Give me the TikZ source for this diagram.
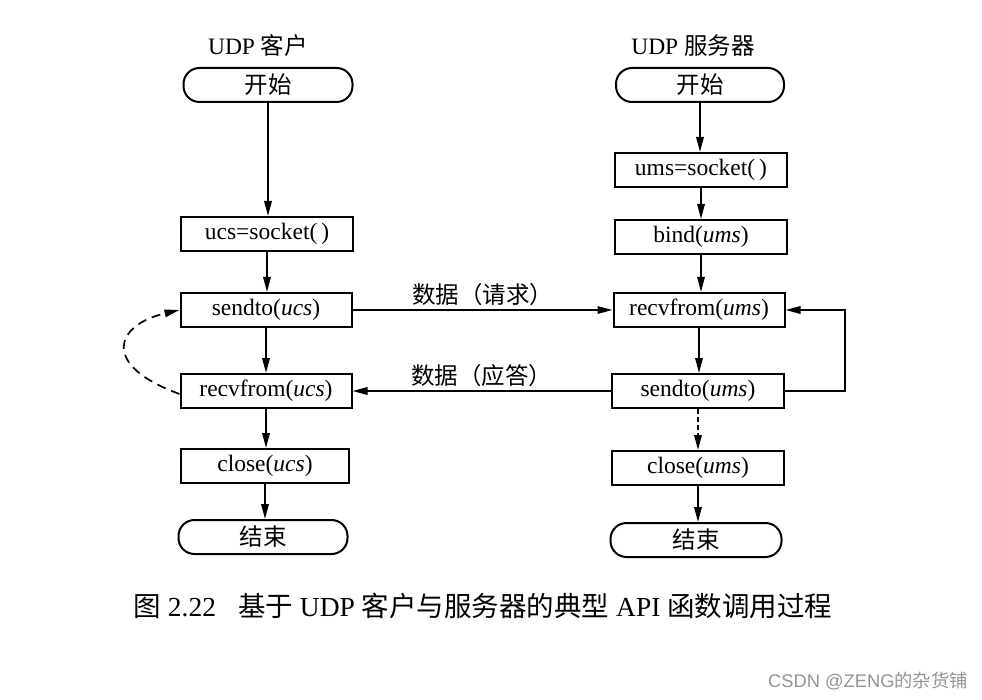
\documentclass[tikz,border=0pt]{standalone}
\usepackage{fontspec}
\setmainfont{Liberation Serif}
\newfontfamily\cjk{Noto Sans CJK SC}
\newfontfamily\wsans{Liberation Sans}
\usetikzlibrary{arrows.meta}
\newcommand\zh[1]{{\cjk #1}}
\begin{document}
\begin{tikzpicture}[x=1pt,y=-1pt,
  box/.style={draw,line width=2pt,minimum height=34pt,inner sep=0pt,font=\fontsize{23.5}{26}\selectfont},
  term/.style={box,rounded corners=16pt,font=\fontsize{23.5}{26}\selectfont\cjk},
  arr/.style={line width=1.7pt,-{Triangle[length=15pt,width=7.5pt]}},
  lbl/.style={font=\fontsize{23.5}{26}\selectfont\cjk},
  ttl/.style={font=\fontsize{23.5}{27}\selectfont}
]
\useasboundingbox (0,0) rectangle (982,700);
% client
\node[ttl] (ct) at (258,46) {UDP \zh{客户}};
\node[term,minimum width=169pt] (cb) at (268,85) {开始};
\node[box,minimum width=172pt] (cs) at (267,234) {ucs=socket(\,)};
\node[box,minimum width=171pt] (sc) at (266,310) {sendto(\textit{ucs})};
\node[box,minimum width=171pt] (rc) at (266,391) {recvfrom(\textit{ucs})};
\node[box,minimum width=168pt] (cc) at (265,466) {close(\textit{ucs})};
\node[term,minimum width=169pt] (ce) at (263,537) {结束};
% server
\node[ttl] (st) at (693,46) {UDP \zh{服务器}};
\node[term,minimum width=168pt] (sb) at (700,85) {开始};
\node[box,minimum width=172pt] (ss0) at (701,170) {ums=socket(\,)};
\node[box,minimum width=172pt] (bd) at (701,237) {bind(\textit{ums})};
\node[box,minimum width=171pt] (rs) at (699,310) {recvfrom(\textit{ums})};
\node[box,minimum width=172pt] (ss) at (698,391) {sendto(\textit{ums})};
\node[box,minimum width=172pt] (cs2) at (698,468) {close(\textit{ums})};
\node[term,minimum width=171pt] (se) at (696,540) {结束};
% client arrows
\draw[arr] (cb.south) -- (cb.south |- cs.north);
\draw[arr] (cs.south) -- (cs.south |- sc.north);
\draw[arr] (sc.south) -- (sc.south |- rc.north);
\draw[arr] (rc.south) -- (rc.south |- cc.north);
\draw[arr] (cc.south) -- (cc.south |- ce.north);
% server arrows
\draw[arr] (sb.south) -- (sb.south |- ss0.north);
\draw[arr] (ss0.south) -- (ss0.south |- bd.north);
\draw[arr] (bd.south) -- (bd.south |- rs.north);
\draw[arr] (rs.south) -- (rs.south |- ss.north);
\draw[arr,dash pattern=on 5pt off 3pt] (ss.south) -- (ss.south |- cs2.north);
\draw[arr] (cs2.south) -- (cs2.south |- se.north);
% loop
\coordinate (lp) at (845,0);
\draw[arr] (ss.east) -- (ss.east -| lp) |- (rs.east);
% data exchange
\draw[arr] (sc.east) -- node[lbl,above=0pt] (lq) {数据（请求）} (rs.west);
\draw[arr] (ss.west) -- node[lbl,above=0pt] (la) {数据（应答）} (rc.east);
% dashed back arc
\draw[arr,dash pattern=on 9pt off 6pt] ([yshift=-3pt]rc.west) .. controls (100,365) and (115,325) .. (sc.west);
% caption
\node[font=\fontsize{27.5}{31}\selectfont] (cap) at (483,606) {\zh{图} 2.22\hspace{0.8em}\zh{基于} UDP \zh{客户与服务器的典型} API \zh{函数调用过程}};
% watermark
\node[font=\fontsize{18.3}{21}\selectfont\wsans,text=black!42] (wm) at (868,681) {CSDN @ZENG\zh{的杂货铺}};
\end{tikzpicture}
\end{document}
